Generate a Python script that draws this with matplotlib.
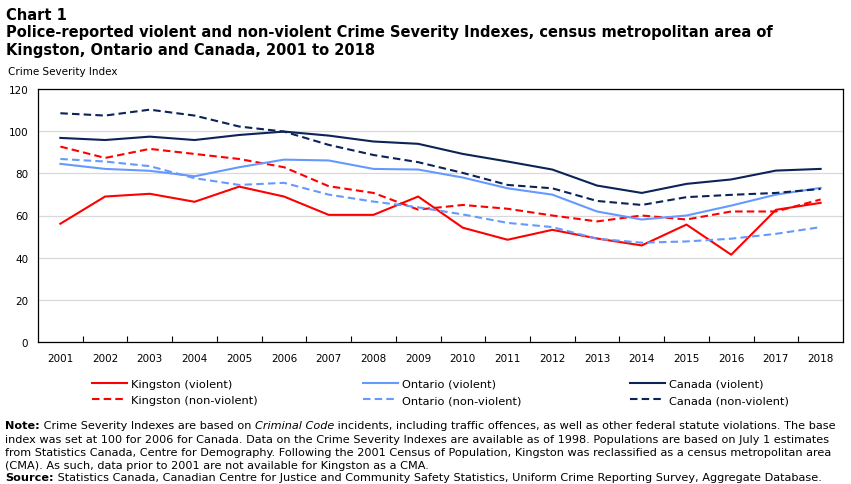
import matplotlib
matplotlib.use("Agg")
import matplotlib.pyplot as plt

years = [str(y) for y in range(2001, 2019)]

kingston_violent = [56.1, 69.0, 70.3, 66.5, 73.7, 69.0, 60.3, 60.3, 69.0,
                    54.2, 48.5, 53.2, 49.1, 45.8, 55.7, 41.4, 62.7, 66.0]
kingston_nonviolent = [92.7, 87.3, 91.6, 89.2, 86.8, 82.9, 73.9, 70.7, 62.8,
                       65.0, 63.2, 60.0, 57.2, 60.0, 58.1, 61.9, 61.9, 67.6]
ontario_violent = [84.5, 82.1, 81.2, 78.6, 82.9, 86.5, 86.1, 82.1, 81.8,
                   78.0, 72.9, 69.9, 61.9, 58.1, 60.0, 64.7, 69.9, 73.1]
ontario_nonviolent = [86.8, 85.6, 83.4, 77.7, 74.5, 75.5, 69.9, 66.6, 63.9,
                      60.5, 56.5, 54.5, 49.0, 47.1, 47.7, 49.0, 51.3, 54.5]
canada_violent = [96.8, 95.8, 97.4, 95.8, 98.2, 99.8, 97.9, 95.1, 94.0,
                  89.2, 85.6, 81.8, 74.2, 70.7, 75.0, 77.1, 81.3, 82.1]
canada_nonviolent = [108.5, 107.4, 110.2, 107.4, 102.2, 99.8, 93.5, 88.7, 85.3,
                     80.2, 74.5, 72.9, 66.9, 65.0, 68.7, 69.8, 70.7, 72.6]

RED = "#ff0000"
LIGHT = "#6699ff"
NAVY = "#0c2357"
DASH = (0, (3.6, 2.0))

plt.rcParams["font.family"] = "DejaVu Sans"

fig = plt.figure(figsize=(8.51, 4.85), dpi=100)
ax = fig.add_axes([38 / 851, 1 - 343 / 485, 805 / 851, 253 / 485])

x = list(range(len(years)))
series = [
    (kingston_violent, RED, "-", "Kingston (violent)"),
    (kingston_nonviolent, RED, DASH, "Kingston (non-violent)"),
    (ontario_violent, LIGHT, "-", "Ontario (violent)"),
    (ontario_nonviolent, LIGHT, DASH, "Ontario (non-violent)"),
    (canada_violent, NAVY, "-", "Canada (violent)"),
    (canada_nonviolent, NAVY, DASH, "Canada (non-violent)"),
]
for vals, col, ls, lab in series:
    ax.plot(x, vals, color=col, linestyle=ls, linewidth=1.5, label=lab)

ax.set_xlim(-0.5, len(years) - 0.5)
ax.set_ylim(0, 120)
ax.set_yticks(range(0, 121, 20))
ax.set_xticks(x)
ax.set_xticklabels(years)
ax.set_xticks([i + 0.5 for i in x[:-1]], minor=True)
ax.tick_params(axis="x", which="major", length=0, pad=8, labelsize=7.5)
ax.tick_params(axis="x", which="minor", direction="in", length=4, width=0.8)
ax.tick_params(axis="y", length=0, pad=7, labelsize=7.5)
ax.grid(axis="y", color="#d9d9d9", linewidth=0.9)
ax.set_axisbelow(True)
for sp in ax.spines.values():
    sp.set_linewidth(0.9)
    sp.set_color("black")

# titles
fig.text(6 / 851, 1 - 16 / 485, "Chart 1", fontsize=10.5, fontweight="bold", va="center")
fig.text(6 / 851, 1 - 33 / 485,
         "Police-reported violent and non-violent Crime Severity Indexes, census metropolitan area of",
         fontsize=10.5, fontweight="bold", va="center")
fig.text(6 / 851, 1 - 50 / 485, "Kingston, Ontario and Canada, 2001 to 2018",
         fontsize=10.5, fontweight="bold", va="center")
fig.text(8 / 851, 1 - 72 / 485, "Crime Severity Index", fontsize=7.5, va="center")

# legend, three columns
handles = ax.get_lines()
col_x = [92, 363, 630]
for i, cx in enumerate(col_x):
    fig.legend(handles[2 * i:2 * i + 2], [h.get_label() for h in handles[2 * i:2 * i + 2]],
               loc="center left", bbox_to_anchor=(cx / 851, 1 - 393 / 485),
               frameon=False, fontsize=8.2, handlelength=3.07, handletextpad=0.35,
               labelspacing=0.6, borderpad=0, borderaxespad=0)


def rich_line(parts, y):
    prev = fig.text(5 / 851, 1 - y / 485, parts[0][0], fontsize=8.1,
                    fontweight=parts[0][1], fontstyle=parts[0][2], va="baseline")
    for txt, w, s in parts[1:]:
        prev = ax.annotate(txt, xy=(1, 0), xycoords=prev, va="bottom", ha="left",
                           fontsize=8.1, fontweight=w, fontstyle=s, annotation_clip=False)


N, B, I = "normal", "bold", "italic"
rich_line([("Note:", B, N), (" Crime Severity Indexes are based on ", N, N),
           ("Criminal Code", N, I),
           (" incidents, including traffic offences, as well as other federal statute violations. The base", N, N)], 429)
rich_line([("index was set at 100 for 2006 for Canada. Data on the Crime Severity Indexes are available as of 1998. Populations are based on July 1 estimates", N, N)], 443)
rich_line([("from Statistics Canada, Centre for Demography. Following the 2001 Census of Population, Kingston was reclassified as a census metropolitan area", N, N)], 456)
rich_line([("(CMA). As such, data prior to 2001 are not available for Kingston as a CMA.", N, N)], 469)
rich_line([("Source:", B, N),
           (" Statistics Canada, Canadian Centre for Justice and Community Safety Statistics, Uniform Crime Reporting Survey, Aggregate Database.", N, N)], 481)

fig.savefig("out.png", dpi=100)
